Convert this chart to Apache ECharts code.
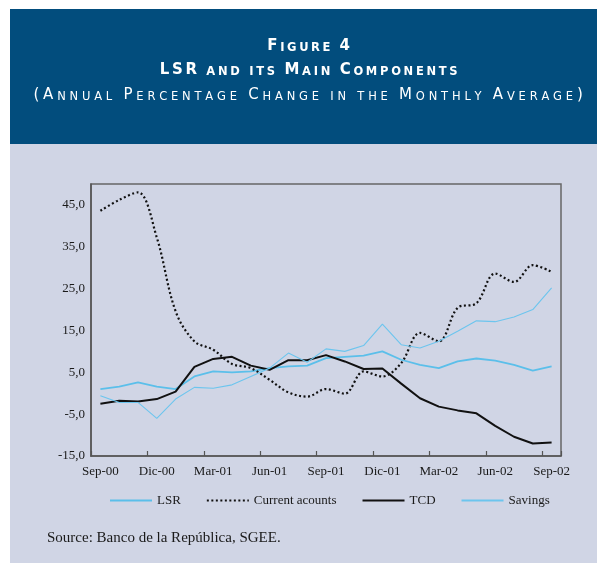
<!DOCTYPE html>
<html>
<head>
<meta charset="utf-8">
<script src="https://cdn.jsdelivr.net/npm/echarts@6/dist/echarts.min.js"></script>
<style>
  html, body { margin: 0; padding: 0; background: #fff; }
  #main { width: 597px; height: 563px; }
</style>
</head>
<body>
<div id="main"></div>
<script>
const months = [
  'Sep-00', 'Oct-00', 'Nov-00', 'Dic-00', 'Ene-01', 'Feb-01', 'Mar-01', 'Abr-01', 'May-01',
  'Jun-01', 'Jul-01', 'Ago-01', 'Sep-01', 'Oct-01', 'Nov-01', 'Dic-01', 'Ene-02', 'Feb-02',
  'Mar-02', 'Abr-02', 'May-02', 'Jun-02', 'Jul-02', 'Ago-02', 'Sep-02'
];
const lsr = [1.0, 1.6, 2.6, 1.6, 1.0, 4.0, 5.2, 5.0, 5.2, 6.0, 6.4, 6.6, 8.4, 8.7, 9.0, 10.0, 8.0, 6.8, 6.0, 7.6, 8.3, 7.8, 6.8, 5.4, 6.4];
const currentAcounts = [43.6, 46.2, 48.0, 37.2, 19.6, 12.4, 10.4, 7.0, 6.0, 3.2, 0.2, -0.8, 1.0, -0.1, 5.2, 4.0, 7.2, 14.4, 12.4, 20.4, 21.5, 28.6, 26.6, 30.6, 29.0];
const tcd = [-2.5, -1.8, -2.0, -1.4, 0.4, 6.3, 8.2, 8.7, 6.6, 5.6, 7.9, 7.9, 9.1, 7.6, 5.8, 5.9, 2.3, -1.2, -3.2, -4.1, -4.8, -7.8, -10.4, -12.0, -11.8];
const savings = [-0.6, -2.2, -2.2, -6.0, -1.4, 1.4, 1.2, 2.0, 4.0, 6.0, 9.6, 7.4, 10.6, 10.0, 11.4, 16.5, 11.6, 10.8, 12.4, 14.8, 17.3, 17.1, 18.2, 20.0, 25.2];

const titleLines = [
  'Figure 4',
  'LSR and its Main Components',
  '(Annual Percentage Change in the Monthly Average)'
];

// small caps: capitals stay big, lower case letters become smaller capitals
const smallCaps = (str) => str.split('').map((c) => {
  if (c !== c.toUpperCase()) return '{s|' + c.toUpperCase() + '}';
  if (c === ' ') return '{s| }';
  return '{b|' + c + '}';
}).join('');

const capsStyle = (big, small, weight, gap) => ({
  b: { fontSize: big, fontWeight: weight, lineHeight: big * 1.2, verticalAlign: 'bottom', padding: [0, gap, 0, 0], color: '#fff', fontFamily: 'DejaVu Sans' },
  s: { fontSize: small, fontWeight: weight, lineHeight: small * 1.2 + (big - small) * 0.35, verticalAlign: 'bottom', padding: [0, gap, 0, 0], color: '#fff', fontFamily: 'DejaVu Sans' }
});

const serif = '"Liberation Serif", "Times New Roman", serif';

const myChart = echarts.init(document.getElementById('main'));

const option = {
  backgroundColor: '#fff',
  animation: false,
  graphic: [
    { type: 'rect', z: -10, shape: { x: 10, y: 9, width: 587, height: 135 }, style: { fill: '#024d7d' } },
    { type: 'rect', z: -10, shape: { x: 10, y: 144, width: 587, height: 419 }, style: { fill: '#d0d5e5' } },
    {
      type: 'text', left: 47, top: 531,
      style: { text: 'Source: Banco de la República, SGEE.', font: '15px ' + serif, fill: '#1a1a1a' }
    }
  ],
  title: [
    { text: smallCaps(titleLines[0]), left: 305, top: 31, textAlign: 'center', textStyle: { rich: capsStyle(15, 11.5, 'bold', 2.6) } },
    { text: smallCaps(titleLines[1]), left: 305, top: 55, textAlign: 'center', textStyle: { rich: capsStyle(15, 11.5, 'bold', 2.7) } },
    { text: smallCaps(titleLines[2]), left: 305, top: 80, textAlign: 'center', textStyle: { rich: capsStyle(15, 11.5, 'normal', 3.8) } }
  ],
  legend: {
    top: 489,
    left: 104,
    itemWidth: 42,
    itemHeight: 10,
    itemGap: 25,
    itemStyle: { opacity: 0 },
    textStyle: { fontFamily: serif, fontSize: 13, color: '#1a1a1a' },
    data: ['LSR', 'Current acounts', 'TCD', 'Savings']
  },
  grid: {
    left: 91, top: 184, right: 36, bottom: 107,
    show: true, borderColor: '#666', borderWidth: 1.5, backgroundColor: 'transparent'
  },
  xAxis: {
    type: 'category',
    data: months,
    boundaryGap: true,
    axisLine: { onZero: false, lineStyle: { color: '#555', width: 1.5 } },
    axisTick: { show: true, interval: 2, inside: true, length: 5, lineStyle: { color: '#555', width: 1.2 } },
    axisLabel: { interval: 2, margin: 9, fontFamily: serif, fontSize: 13, color: '#1a1a1a' }
  },
  yAxis: {
    type: 'value',
    min: -15,
    max: 50,
    interval: 5,
    splitLine: { show: false },
    axisLine: { show: true, lineStyle: { color: '#555', width: 1.5 } },
    axisTick: { show: false },
    axisLabel: {
      margin: 6, fontFamily: serif, fontSize: 13, color: '#1a1a1a',
      formatter: (v) => ((v + 15) % 10 === 0 && v < 50) ? v.toFixed(1).replace('.', ',') : ''
    }
  },
  series: [
    { name: 'LSR', type: 'line', data: lsr, symbol: 'none', lineStyle: { color: '#5bbfea', width: 1.8 }, itemStyle: { color: '#5bbfea' } },
    { name: 'Current acounts', type: 'line', data: currentAcounts, symbol: 'none', smooth: 0.35, lineStyle: { color: '#111', width: 2.2, type: [2, 2.5] }, itemStyle: { color: '#111' } },
    { name: 'TCD', type: 'line', data: tcd, symbol: 'none', lineStyle: { color: '#111', width: 2 }, itemStyle: { color: '#111' } },
    { name: 'Savings', type: 'line', data: savings, symbol: 'none', lineStyle: { color: '#6cc5ee', width: 1.1 }, itemStyle: { color: '#6cc5ee' } }
  ]
};

myChart.setOption(option);
</script>
</body>
</html>
